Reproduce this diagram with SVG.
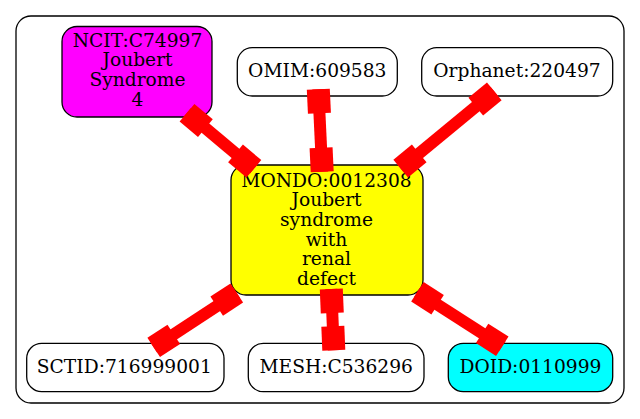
<svg xmlns="http://www.w3.org/2000/svg" width="640" height="419" viewBox="0 0 640 419">
<style>
.cl{fill:#fff;stroke:#000;stroke-width:1.3}
.nd{stroke:#000;stroke-width:1.3}
.t{font-family:"DejaVu Serif","Liberation Serif",serif;font-size:18.67px;fill:#000;text-anchor:middle}
.e{stroke:#f00;stroke-width:12;fill:none;marker-start:url(#bs);marker-end:url(#be)}
</style>
<defs>
<marker id="bs" markerUnits="userSpaceOnUse" orient="auto" overflow="visible" markerWidth="24" markerHeight="24" refX="0" refY="0"><rect x="0" y="-11.5" width="24" height="23" fill="#f00"/></marker>
<marker id="be" markerUnits="userSpaceOnUse" orient="auto" overflow="visible" markerWidth="24" markerHeight="24" refX="0" refY="0"><rect x="-24" y="-11.5" width="24" height="23" fill="#f00"/></marker>
</defs>
<rect width="640" height="419" fill="#fff"/>
<g id="cluster">
<rect class="cl" x="16" y="16" width="608" height="387" rx="15"/>
</g>
<g id="ncit">
<rect class="nd" x="62" y="26.5" width="150" height="90.5" rx="15" fill="#f0f"/>
<text class="t" x="137.5" y="46.7">NCIT:C74997</text>
<text class="t" x="137.5" y="66.4">Joubert</text>
<text class="t" x="137.5" y="86.1">Syndrome</text>
<text class="t" x="137.5" y="105.8">4</text>
</g>
<g id="omim">
<rect class="nd" x="237.3" y="47.7" width="160" height="48.3" rx="15" fill="#fff"/>
<text class="t" x="317.3" y="77">OMIM:609583</text>
</g>
<g id="orphanet">
<rect class="nd" x="421.7" y="47.7" width="191" height="48.3" rx="15" fill="#fff"/>
<text class="t" x="517" y="77">Orphanet:220497</text>
</g>
<g id="mondo">
<rect class="nd" x="231" y="165" width="192" height="130" rx="15" fill="#ff0"/>
<text class="t" x="326.5" y="186.7">MONDO:0012308</text>
<text class="t" x="326.5" y="206.3">Joubert</text>
<text class="t" x="326.5" y="226">syndrome</text>
<text class="t" x="326.5" y="245.6">with</text>
<text class="t" x="326.5" y="265.3">renal</text>
<text class="t" x="326.5" y="285">defect</text>
</g>
<g id="sctid">
<rect class="nd" x="26.7" y="343.3" width="197.3" height="48.4" rx="15" fill="#fff"/>
<text class="t" x="124.3" y="373.3">SCTID:716999001</text>
</g>
<g id="mesh">
<rect class="nd" x="248.3" y="343.3" width="175.7" height="48.4" rx="15" fill="#fff"/>
<text class="t" x="336.2" y="373.3">MESH:C536296</text>
</g>
<g id="doid">
<rect class="nd" x="448.3" y="343.3" width="164.4" height="48.4" rx="15" fill="#0ff"/>
<text class="t" x="530.5" y="373.3">DOID:0110999</text>
</g>
<g id="connectors">
<path class="e" d="M187,112.7 L253.9,168.8"/>
<path class="e" d="M318.3,89.3 L322.2,171.8"/>
<path class="e" d="M494.3,91.4 L400.7,168.6"/>
<path class="e" d="M236.8,293 L153.7,347.4"/>
<path class="e" d="M331.3,289 L333.8,350.3"/>
<path class="e" d="M417.4,291.8 L502.3,346.3"/>
</g>
</svg>
